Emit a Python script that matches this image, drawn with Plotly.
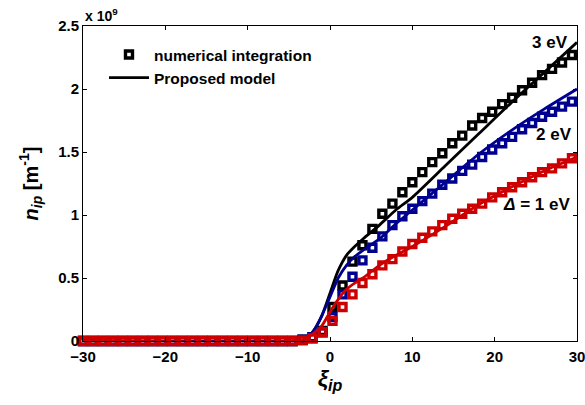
import plotly.graph_objects as go

# ---- data (densities in units of 1e9 m^-1) ----
xi_points = [-30.00, -28.79, -27.58, -26.36, -25.15, -23.94, -22.73, -21.52, -20.30, -19.09,
             -17.88, -16.67, -15.45, -14.24, -13.03, -11.82, -10.61, -9.39, -8.18, -6.97,
             -5.76, -4.55, -3.33, -2.12, -0.91, 0.30, 1.52, 2.73, 3.94, 5.15,
             6.36, 7.58, 8.79, 10.00, 11.21, 12.42, 13.64, 14.85, 16.06, 17.27,
             18.48, 19.70, 20.91, 22.12, 23.33, 24.55, 25.76, 26.97, 28.18, 29.39]

num_3eV = [0]*22 + [0.01, 0.03, 0.08, 0.27, 0.44, 0.63, 0.76, 0.89, 1.01, 1.09,
                    1.18, 1.26, 1.34, 1.42, 1.49, 1.57, 1.63, 1.71, 1.77, 1.82,
                    1.88, 1.93, 1.99, 2.05, 2.11, 2.16, 2.21, 2.27]
num_2eV = [0]*22 + [0.01, 0.03, 0.07, 0.19, 0.37, 0.51, 0.64, 0.74, 0.83, 0.92,
                    0.99, 1.05, 1.11, 1.17, 1.24, 1.29, 1.35, 1.40, 1.46, 1.52,
                    1.57, 1.62, 1.68, 1.73, 1.78, 1.82, 1.86, 1.90]
num_1eV = [0]*22 + [0.005, 0.02, 0.07, 0.16, 0.27, 0.37, 0.46, 0.53, 0.60, 0.65,
                    0.71, 0.77, 0.82, 0.87, 0.92, 0.97, 1.01, 1.05, 1.09, 1.14,
                    1.18, 1.22, 1.26, 1.30, 1.34, 1.37, 1.41, 1.45]

xi_model = [-30, -4, -3, -2, -1, 0, 1, 2, 3, 4, 6, 8, 10, 14, 18, 22, 26, 30]
model_3eV = [0, 0, 0.01, 0.08, 0.20, 0.38, 0.56, 0.68, 0.75, 0.81, 0.92, 1.04, 1.14, 1.39, 1.64, 1.89, 2.13, 2.37]
model_2eV = [0, 0, 0.01, 0.08, 0.20, 0.35, 0.50, 0.60, 0.67, 0.72, 0.81, 0.93, 1.04, 1.26, 1.48, 1.67, 1.84, 2.00]
model_1eV = [0, 0, 0.02, 0.06, 0.12, 0.23, 0.33, 0.41, 0.46, 0.50, 0.60, 0.68, 0.75, 0.91, 1.08, 1.22, 1.35, 1.46]

x_ticks = [-30, -20, -10, 0, 10, 20, 30]
y_ticks = [0, 0.5, 1, 1.5, 2, 2.5]
y_tick_labels = ["0", "0.5", "1", "1.5", "2", "2.5"]

series = [
    ("3 eV", num_3eV, model_3eV, "#000000"),
    ("2 eV", num_2eV, model_2eV, "#000090"),
    ("1 eV", num_1eV, model_1eV, "#CC0000"),
]

FONT = "Arial, Liberation Sans, Helvetica, sans-serif"

fig = go.Figure()
for i, (name, num, mod, col) in enumerate(series):
    fig.add_trace(go.Scatter(
        x=xi_points, y=num, mode="markers", name="numerical integration",
        showlegend=(i == 0), cliponaxis=False,
        marker=dict(symbol="square-open", size=7, color=col, line=dict(width=3.4, color=col)),
    ))
    fig.add_trace(go.Scatter(
        x=xi_model, y=mod, mode="lines", name="Proposed model",
        showlegend=(i == 0),
        line=dict(color=col, width=2.8, shape="spline", smoothing=0.7),
    ))

axis_common = dict(
    showline=True, linecolor="#000000", linewidth=1, mirror="ticks",
    ticks="inside", ticklen=4, tickcolor="#000000", showgrid=False, zeroline=False,
    automargin=False,
    tickfont=dict(family=FONT, size=15, color="#000000", weight="bold"),
)

fig.update_layout(
    width=585, height=405,
    margin=dict(l=83, r=8, t=26, b=64),
    paper_bgcolor="white", plot_bgcolor="white",
    font=dict(family=FONT, color="#000000"),
    xaxis=dict(range=[-30, 30], tickvals=x_ticks, ticklabeloverflow="allow",
               ticklabelstandoff=2, **axis_common,
               title=dict(text="<b><i>ξ</i><sub><i>ip</i></sub></b>",
                          font=dict(family=FONT, size=23), standoff=4)),
    yaxis=dict(range=[0, 2.5], tickvals=y_ticks, ticktext=y_tick_labels, **axis_common,
               title=dict(text="<b><i>n</i><sub><i>ip</i></sub> [m<sup>-1</sup>]</b>",
                          font=dict(family=FONT, size=20), standoff=14)),
    legend=dict(x=0.0425, y=0.962, xanchor="left", yanchor="top",
                bgcolor="rgba(0,0,0,0)", borderwidth=0, itemwidth=40,
                font=dict(family=FONT, size=15.5, weight="bold")),
    annotations=[
        dict(text="<b>x 10<sup>9</sup></b>", xref="paper", yref="paper", x=0, y=1,
             xanchor="left", yanchor="bottom", showarrow=False,
             font=dict(family=FONT, size=14)),
        dict(text="<b>3 eV</b>", x=29.2, y=2.37, xanchor="right", yanchor="middle",
             showarrow=False, font=dict(family=FONT, size=17)),
        dict(text="<b>2 eV</b>", x=29.6, y=1.64, xanchor="right", yanchor="middle",
             showarrow=False, font=dict(family=FONT, size=17)),
        dict(text="<b><i>Δ</i> = 1 eV</b>", x=29.4, y=1.08, xanchor="right", yanchor="middle",
             showarrow=False, font=dict(family=FONT, size=17)),
    ],
)

fig.write_html("out.html")
